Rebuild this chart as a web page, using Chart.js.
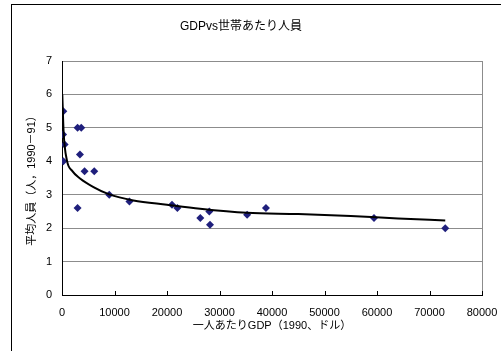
<!DOCTYPE html>
<html>
<head>
<meta charset="utf-8">
<script src="https://cdn.jsdelivr.net/npm/chart.js@4.4.0/dist/chart.umd.min.js"></script>
<style>
  html, body { margin: 0; padding: 0; background: #fff; }
</style>
</head>
<body>
<canvas id="gdpChart" width="501" height="351"></canvas>
<script>
// GDP per head (1990, USD) and persons per household
var gdpValues = [200, 250, 500, 250, 2970, 3670, 3420, 2970, 4300, 6140, 9000, 12850, 20950, 21980, 26350, 28060, 28190, 35260, 38840, 59430, 73000];
var householdValues = [4.8, 5.5, 4.5, 4.0, 5.0, 5.0, 4.2, 2.6, 3.7, 3.7, 3.0, 2.8, 2.7, 2.6, 2.3, 2.5, 2.1, 2.4, 2.6, 2.3, 2.0];

// trend line
var trendX = [60, 300, 950, 1900, 3500, 6000, 9000, 13600, 20000, 26300, 35200, 45000, 55000, 64000, 73000];
var trendY = [6.0, 4.9, 4.02, 3.72, 3.48, 3.23, 3.01, 2.83, 2.70, 2.58, 2.46, 2.42, 2.36, 2.29, 2.23];

var xTicks = [0, 10000, 20000, 30000, 40000, 50000, 60000, 70000, 80000];
var yTicks = [0, 1, 2, 3, 4, 5, 6, 7];

var fontFamily = '"Liberation Sans", Arial, "Noto Sans CJK JP", sans-serif';
Chart.defaults.font.family = fontFamily;
Chart.defaults.color = '#000';

var points = gdpValues.map(function (x, i) { return { x: x, y: householdValues[i] }; });
var trend = trendX.map(function (x, i) { return { x: x, y: trendY[i] }; });

// outer frame + small tick marks pointing up from the x axis
var framePlugin = {
    id: 'frame',
    beforeDraw: function (chart) {
        var c = chart.ctx;
        c.save();
        c.fillStyle = '#fff';
        c.fillRect(0, 0, chart.width, chart.height);
        c.strokeStyle = '#000';
        c.lineWidth = 1;
        c.strokeRect(11.5, 4.5, 600, 400);
        c.restore();
    },
    afterDatasetsDraw: function (chart) {
        var c = chart.ctx;
        var xs = chart.scales.x;
        var bottom = chart.chartArea.bottom;
        c.save();
        c.strokeStyle = '#000';
        c.lineWidth = 1;
        xTicks.forEach(function (v) {
            var px = Math.round(xs.getPixelForValue(v)) + 0.5;
            c.beginPath();
            c.moveTo(px, bottom);
            c.lineTo(px, bottom - 4);
            c.stroke();
        });
        c.restore();
    }
};

var ctx = document.getElementById('gdpChart');
var myChart = new Chart(ctx, {
    type: 'scatter',
    data: {
        datasets: [
            {
                label: '世帯あたり人員',
                data: points,
                pointStyle: 'rectRot',
                pointRadius: 4,
                pointBackgroundColor: '#1f1f7c',
                pointBorderWidth: 0,
                showLine: false,
                order: 1,
            },
            {
                label: 'トレンド',
                data: trend,
                showLine: true,
                borderColor: '#000',
                borderWidth: 2,
                pointRadius: 0,
                cubicInterpolationMode: 'monotone',
                order: 0,
            },
        ]
    },
    options: {
        responsive: false,
        animation: false,
        layout: {
            padding: { left: 0, right: 19, top: 0, bottom: 0 },
        },
        plugins: {
            legend: { display: false },
            tooltip: { enabled: false },
            title: {
                display: true,
                text: 'GDPvs世帯あたり人員',
                font: { size: 12, weight: 'normal', family: fontFamily, lineHeight: 1.2 },
                padding: { top: 19, bottom: 27.6 },
            },
        },
        scales: {
            x: {
                type: 'linear',
                min: 0,
                max: 80000,
                afterBuildTicks: function (scale) {
                    scale.ticks = xTicks.map(function (v) { return { value: v }; });
                },
                afterFit: function (scale) {
                    scale.height = 56;
                    scale.paddingLeft = 0;
                    scale.paddingRight = 0;
                },
                ticks: {
                    font: { size: 11 },
                    padding: 11,
                    maxRotation: 0,
                    callback: function (v) { return String(v); },
                },
                grid: {
                    drawTicks: false,
                    color: function (c) {
                        return c.tick && c.tick.value === 80000 ? '#8c8c8c' : 'rgba(0,0,0,0)';
                    },
                },
                border: { color: '#000', width: 1 },
                title: {
                    display: true,
                    text: '一人あたりGDP（1990、ドル）',
                    font: { size: 11 },
                    padding: { top: 0, bottom: 18 },
                },
            },
            y: {
                type: 'linear',
                min: 0,
                max: 7,
                afterBuildTicks: function (scale) {
                    scale.ticks = yTicks.map(function (v) { return { value: v }; });
                },
                afterFit: function (scale) {
                    scale.width = 62;
                    scale.paddingTop = 0;
                    scale.paddingBottom = 0;
                },
                ticks: {
                    font: { size: 11 },
                    padding: 10,
                },
                grid: {
                    drawTicks: false,
                    color: '#8c8c8c',
                },
                border: { color: '#000', width: 1 },
                title: {
                    display: true,
                    text: '平均人員（人，1990－91）',
                    font: { size: 11 },
                    padding: { top: 25, bottom: 0 },
                },
            },
        },
    },
    plugins: [framePlugin],
});
</script>
</body>
</html>
